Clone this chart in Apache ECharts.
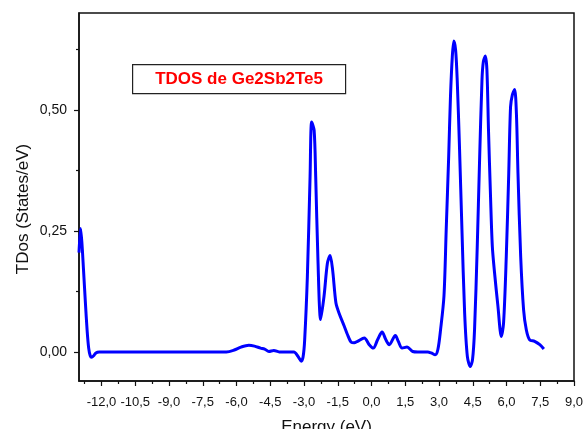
<!DOCTYPE html>
<html>
<head>
<meta charset="utf-8">
<script src="https://cdn.jsdelivr.net/npm/echarts@6/dist/echarts.min.js"></script>
<style>
  html, body { margin: 0; padding: 0; background: #fff; }
  #chart { width: 583px; height: 429px; }
</style>
</head>
<body>
<div id="chart"></div>
<script>
// Total density of states of Ge2Sb2Te5
const energy = [
  -13.00, -12.93, -12.87, -12.80, -12.72, -12.64, -12.57, -12.50, -12.44, -12.35,
  -12.25, -12.10, -6.45, -6.10, -5.80, -5.45, -5.20, -4.93, -4.75, -4.56,
  -4.34, -4.10, -3.45, -3.27, -3.12, -3.04, -2.97, -2.85, -2.73, -2.66,
  -2.55, -2.48, -2.38, -2.26, -2.11, -1.96, -1.84, -1.73, -1.58, -1.44,
  -1.21, -1.07, -0.90, -0.77, -0.62, -0.32, -0.10, 0.08, 0.27, 0.47,
  0.64, 0.79, 1.06, 1.19, 1.36, 1.58, 1.83, 2.06, 2.50, 2.65,
  2.83, 2.95, 3.07, 3.22, 3.32, 3.43, 3.51, 3.59, 3.66, 3.74,
  3.81, 3.91, 4.02, 4.14, 4.26, 4.39, 4.49, 4.58, 4.70, 4.80,
  4.91, 4.97, 5.06, 5.13, 5.20, 5.29, 5.37, 5.47, 5.62, 5.77,
  5.87, 5.99, 6.10, 6.18, 6.26, 6.36, 6.44, 6.51, 6.63, 6.76,
  6.88, 7.03, 7.25, 7.48, 7.66
];
const tdos = [
  0.205, 0.255, 0.225, 0.170, 0.105, 0.045, 0.008, -0.008, -0.011, -0.008,
  -0.002, 0.000, 0.000, 0.004, 0.010, 0.0137, 0.012, 0.008, 0.006, 0.001,
  0.003, 0.000, 0.000, -0.009, -0.019, -0.010, 0.025, 0.156, 0.362, 0.475,
  0.458, 0.362, 0.190, 0.067, 0.115, 0.183, 0.199, 0.170, 0.101, 0.080,
  0.053, 0.036, 0.020, 0.019, 0.022, 0.029, 0.015, 0.008, 0.025, 0.041,
  0.025, 0.015, 0.034, 0.022, 0.008, 0.010, 0.001, 0.000, 0.000, -0.002,
  -0.006, 0.005, 0.046, 0.115, 0.252, 0.403, 0.527, 0.609, 0.642, 0.623,
  0.561, 0.424, 0.252, 0.080, -0.009, -0.030, -0.016, 0.046, 0.218, 0.390,
  0.561, 0.599, 0.611, 0.582, 0.458, 0.321, 0.218, 0.163, 0.094, 0.032,
  0.060, 0.197, 0.369, 0.506, 0.531, 0.542, 0.493, 0.369, 0.197, 0.087,
  0.046, 0.025, 0.022, 0.015, 0.006
];

// Axis ticks
const xMajorTicks = [-12, -10.5, -9, -7.5, -6, -4.5, -3, -1.5, 0, 1.5, 3, 4.5, 6, 7.5, 9];
const xMinorTicks = [-12.75, -11.25, -9.75, -8.25, -6.75, -5.25, -3.75, -2.25, -0.75, 0.75, 2.25, 3.75, 5.25, 6.75, 8.25];
const yMajorTicks = [0, 0.25, 0.5];
const yMinorTicks = [0.125, 0.375, 0.625];

const legendText = 'TDOS de Ge2Sb2Te5';
const xName = 'Energy (eV)';
const yName = 'TDos (States/eV)';

const FONT = '"Liberation Sans", Arial, sans-serif';
const INK = '#111';

const chart = echarts.init(document.getElementById('chart'), null, { renderer: 'canvas' });

const axisLineStyle = { color: INK, width: 1.5 };
const tickStyle = { color: INK, width: 1.2 };

chart.setOption({
  animation: false,
  backgroundColor: '#fff',
  grid: {
    left: 79, right: 9, top: 13, bottom: 48,
    outerBoundsMode: 'none', containLabel: false,
    show: true, borderColor: INK, borderWidth: 1.5, backgroundColor: 'transparent'
  },
  xAxis: [
    {
      type: 'value', min: -13, max: 9,
      name: xName, nameLocation: 'middle', nameGap: 38, nameMoveOverlap: false,
      nameTextStyle: { fontFamily: FONT, fontSize: 17, color: INK },
      axisLine: { show: true, onZero: false, lineStyle: axisLineStyle },
      axisTick: { show: true, inside: false, length: 5, customValues: xMajorTicks, lineStyle: tickStyle },
      axisLabel: {
        customValues: xMajorTicks, margin: 15, fontFamily: FONT, fontSize: 13, color: INK,
        formatter: v => v.toFixed(1).replace('.', ',')
      },
      splitLine: { show: false }
    },
    {
      type: 'value', min: -13, max: 9, position: 'bottom',
      axisLine: { show: false, onZero: false },
      axisTick: { show: true, inside: false, length: 3, customValues: xMinorTicks, lineStyle: tickStyle },
      axisLabel: { show: false },
      splitLine: { show: false }
    }
  ],
  yAxis: [
    {
      type: 'value', min: -0.06, max: 0.70,
      name: yName, nameLocation: 'middle', nameGap: 47, nameRotate: 90, nameMoveOverlap: false,
      nameTextStyle: { fontFamily: FONT, fontSize: 17, color: INK, padding: [0, 24, 0, 0] },
      axisLine: { show: true, onZero: false, lineStyle: axisLineStyle },
      axisTick: { show: true, inside: false, length: 5, customValues: yMajorTicks, lineStyle: tickStyle },
      axisLabel: {
        customValues: yMajorTicks, margin: 12, fontFamily: FONT, fontSize: 14, color: INK,
        formatter: v => v.toFixed(2).replace('.', ',')
      },
      splitLine: { show: false }
    },
    {
      type: 'value', min: -0.06, max: 0.70, position: 'left',
      axisLine: { show: false, onZero: false },
      axisTick: { show: true, inside: false, length: 3, customValues: yMinorTicks, lineStyle: tickStyle },
      axisLabel: { show: false },
      splitLine: { show: false }
    }
  ],
  series: [{
    type: 'line',
    xAxisIndex: 0, yAxisIndex: 0,
    data: energy.map((e, i) => [e, tdos[i]]),
    showSymbol: false,
    smooth: 0.3,
    lineStyle: { color: '#0000ff', width: 3 },
    clip: true
  }],
  graphic: [{
    type: 'group', left: 132, top: 64,
    children: [
      { type: 'rect', shape: { x: 0, y: 0, width: 213, height: 29 },
        style: { fill: '#fff', stroke: '#222', lineWidth: 1.2 } },
      { type: 'text', x: 106.5, y: 14.5,
        style: { text: legendText, fill: '#ff0000', font: 'bold 17px ' + FONT, align: 'center', verticalAlign: 'middle' } }
    ]
  }]
});
</script>
</body>
</html>
